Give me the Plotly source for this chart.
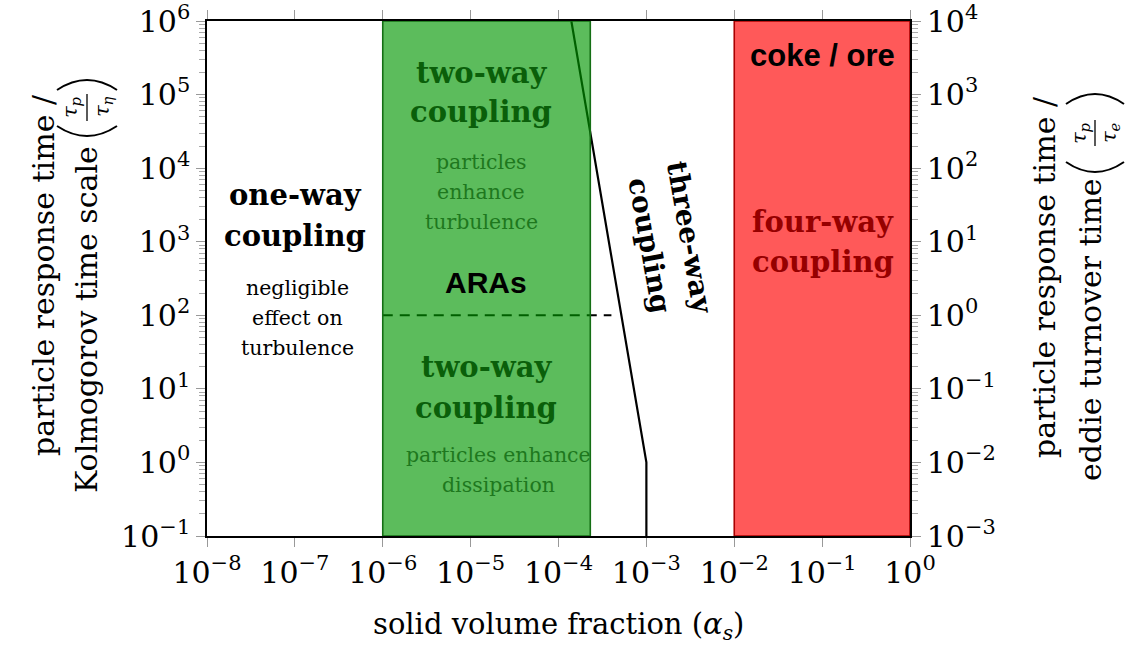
import numpy as np
import plotly.graph_objects as go

# ---------------- data ----------------
x_decades = list(range(-8, 1))            # 10^-8 ... 10^0
y_left_decades = list(range(-1, 7))       # 10^-1 ... 10^6
y_right_decades = list(range(-3, 5))      # 10^-3 ... 10^4

# regime boundaries (solid volume fraction)
two_way_x = [1e-6, 2.3e-4]
four_way_x = [1e-2, 1e0]
y_extent = [1e-1, 1e6]

# three-way coupling boundary line
boundary_x = [1.4e-4, 1e-3, 1e-3]
boundary_y = [1e6, 1e0, 1e-1]

# ARAs divider (dashed)
ara_x = [1e-6, 4e-4]
ara_y = [1e2, 1e2]

SERIF = "DejaVu Serif"
SANS = "Liberation Sans"

def sup_labels(decs):
    return ["10<sup>%s</sup>" % (str(d).replace("-", "\u2212")) for d in decs]

def minor_vals(decs):
    out = []
    for d in decs[:-1]:
        for m in range(2, 10):
            out.append(m * 10.0 ** d)
    return out

fig = go.Figure()

# lines first (regions drawn semi-transparent on top of them)
fig.add_trace(go.Scatter(x=boundary_x, y=boundary_y, mode="lines",
                         line=dict(color="black", width=2.2),
                         hoverinfo="skip", showlegend=False))
fig.add_trace(go.Scatter(x=ara_x, y=ara_y, mode="lines",
                         line=dict(color="black", width=2, dash="10px,7px"),
                         hoverinfo="skip", showlegend=False))

def rect(xs, ys, fill, edge):
    fig.add_trace(go.Scatter(
        x=[xs[0], xs[1], xs[1], xs[0], xs[0]],
        y=[ys[0], ys[0], ys[1], ys[1], ys[0]],
        mode="lines", fill="toself", fillcolor=fill,
        line=dict(color=edge, width=1.6),
        hoverinfo="skip", showlegend=False))

rect(two_way_x, y_extent, "rgba(0,150,0,0.64)", "rgb(20,110,20)")
rect(four_way_x, y_extent, "rgba(255,0,0,0.65)", "rgb(170,0,0)")

# helper trace so the right axis is drawn
fig.add_trace(go.Scatter(x=[10.0 ** x_decades[0], 10.0 ** x_decades[-1]],
                         y=[10.0 ** y_right_decades[0], 10.0 ** y_right_decades[-1]],
                         yaxis="y2", mode="markers", marker=dict(opacity=0),
                         hoverinfo="skip", showlegend=False))

tick_font = dict(family=SERIF, size=30, color="black")
common = dict(showgrid=False, zeroline=False, showline=True, linecolor="black",
              linewidth=1.5, ticks="outside", ticklen=9, tickcolor="#999999",
              tickwidth=1, tickfont=tick_font, automargin=False,
              ticklabeloverflow="allow")

fig.update_layout(
    width=1133, height=647, autosize=False,
    margin=dict(l=207, r=223, t=21, b=111),
    paper_bgcolor="white", plot_bgcolor="white",
    showlegend=False,
    xaxis=dict(type="log", range=[x_decades[0], x_decades[-1]],
               tickmode="array", tickvals=[10.0 ** d for d in x_decades],
               ticktext=sup_labels(x_decades), mirror="allticks", **common),
    yaxis=dict(type="log", range=[y_left_decades[0], y_left_decades[-1]],
               tickmode="array", tickvals=[10.0 ** d for d in y_left_decades],
               ticktext=sup_labels(y_left_decades), mirror=True,
               minor=dict(tickmode="array", tickvals=minor_vals(y_left_decades),
                          ticks="outside", ticklen=6, tickcolor="#aaaaaa"),
               **common),
    yaxis2=dict(type="log", range=[y_right_decades[0], y_right_decades[-1]],
                overlaying="y", side="right",
                tickmode="array", tickvals=[10.0 ** d for d in y_right_decades],
                ticktext=sup_labels(y_right_decades),
                minor=dict(tickmode="array", tickvals=minor_vals(y_right_decades),
                           ticks="outside", ticklen=6, tickcolor="#aaaaaa"),
                **common),
)

# ---------- in-plot text (positions via pixel -> log coords) ----------
PL, PR, PT, PB = 207, 910, 21, 536
def lx(px):
    return x_decades[0] + (px - PL) / (PR - PL) * (x_decades[-1] - x_decades[0])
def ly(py):
    return y_left_decades[-1] - (py - PT) / (PB - PT) * (y_left_decades[-1] - y_left_decades[0])
def pxp(px):
    return (px - PL) / (PR - PL)
def pyp(py):
    return (PB - py) / (PB - PT)

GREEN_T = "rgb(10,95,10)"
GREEN_S = "rgb(30,120,30)"
RED_T = "rgb(150,0,0)"

def note(text, px, py, size, color="black", family=SERIF, angle=0):
    fig.add_annotation(x=lx(px), y=ly(py), xref="x", yref="y", text=text,
                       showarrow=False, textangle=angle,
                       font=dict(family=family, size=size, color=color),
                       xanchor="center", yanchor="middle", align="center")

def lines(texts, px, pys, size, color="black", family=SERIF, bold=False):
    for t, py in zip(texts, pys):
        note("<b>%s</b>" % t if bold else t, px, py, size, color, family)

BOLD = 29
SMALL = 20.5
lines(["one-way", "coupling"], 295, [195, 236], BOLD, bold=True)
lines(["negligible", "effect on", "turbulence"], 297, [288, 318, 348], SMALL)
lines(["two-way", "coupling"], 481, [73, 112], BOLD, GREEN_T, bold=True)
lines(["particles", "enhance", "turbulence"], 481, [162, 192, 222], SMALL, GREEN_S)
note("<b>ARAs</b>", 486, 282, 30, "black", SANS)
lines(["two-way", "coupling"], 486, [367, 408], BOLD, GREEN_T, bold=True)
lines(["particles enhance", "dissipation"], 498, [455, 485], SMALL, GREEN_S)
note("<b>three-way</b>", 690, 237, 28, "black", SERIF, 80)
note("<b>coupling</b>", 650, 245, 28, "black", SERIF, 80)
note("<b>coke / ore</b>", 822, 55, 31, "black", SANS)
lines(["four-way", "coupling"], 823, [222, 262], BOLD, RED_T, bold=True)

# ---------- axis titles (paper coords) ----------
def pnote(text, px, py, size, angle=0):
    fig.add_annotation(x=pxp(px), y=pyp(py), xref="paper", yref="paper",
                       text=text, showarrow=False, textangle=angle,
                       font=dict(family=SERIF, size=size, color="black"),
                       xanchor="center", yanchor="middle")

def arc(px0, px1, py_end, py_ctrl):
    xm = (px0 + px1) / 2
    path = "M %f,%f Q %f,%f %f,%f" % (pxp(px0), pyp(py_end), pxp(xm), pyp(py_ctrl),
                                      pxp(px1), pyp(py_end))
    fig.add_shape(type="path", xref="paper", yref="paper", path=path,
                  line=dict(color="black", width=2))

def frac_bar(px, py0, py1):
    fig.add_shape(type="line", xref="paper", yref="paper",
                  x0=pxp(px), x1=pxp(px), y0=pyp(py0), y1=pyp(py1),
                  line=dict(color="black", width=1.3))

TITLE = 30
pnote("solid volume fraction (<i>α</i><sub><i>s</i></sub>)", 558, 626, 29)

# left title
pnote("particle response time /", 43, 275, TITLE, -90)
pnote("Kolmogorov time scale", 86, 320, TITLE, -90)
pnote("<i>τ</i><sub><i>p</i></sub>", 71, 107, 21, -90)
pnote("<i>τ</i><sub><i>η</i></sub>", 103, 107, 21, -90)
frac_bar(87, 94, 121)
arc(57, 117, 90, 70)
arc(57, 117, 126, 146)

# right title
pnote("particle response time /", 1044, 277, TITLE, -90)
pnote("eddie turnover time", 1090, 330, TITLE, -90)
pnote("<i>τ</i><sub><i>p</i></sub>", 1080, 133, 21, -90)
pnote("<i>τ</i><sub><i>e</i></sub>", 1110, 133, 21, -90)
frac_bar(1095, 120, 146)
arc(1066, 1124, 104, 84)
arc(1066, 1124, 162, 182)

fig.write_html("out.html")
